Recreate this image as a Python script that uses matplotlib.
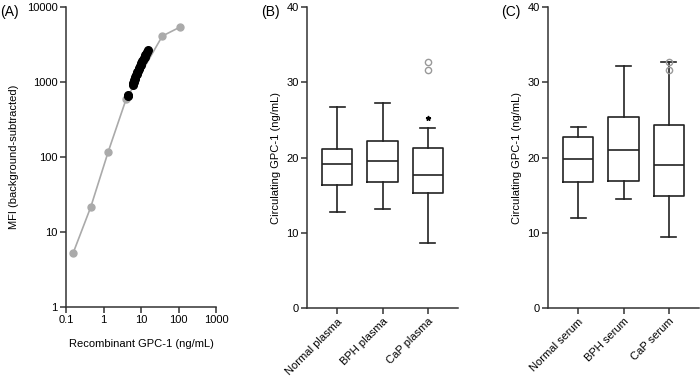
import matplotlib
matplotlib.use("Agg")
import matplotlib.pyplot as plt
from matplotlib.ticker import FixedLocator, NullLocator

plt.rcParams['font.family'] = ['Liberation Sans', 'DejaVu Sans']
plt.rcParams['font.size'] = 8

# (A) standard curve
std_conc = [0.154, 0.457, 1.34, 4.0, 37.0, 110.0]
std_mfi = [5.2, 21.5, 118, 588, 4100, 5400]
smp_conc = [4.4, 4.5, 6.0, 6.2, 6.4, 6.6, 6.9, 7.1, 7.4, 7.7, 8.0, 8.3, 8.7, 9.0,
            9.4, 9.8, 10.2, 10.7, 11.2, 11.8, 12.4, 13.1, 13.9, 14.8, 15.7]
smp_mfi = [650, 670, 910, 960, 1010, 1060, 1110, 1170, 1230, 1290, 1350, 1420, 1490, 1560,
           1630, 1710, 1790, 1880, 1970, 2060, 2160, 2270, 2390, 2530, 2680]

# (B) plasma and (C) serum: whisker low, Q1, median, Q3, whisker high
plasma_labels = ['Normal plasma', 'BPH plasma', 'CaP plasma']
plasma_low = [12.7, 13.2, 8.7]
plasma_q1 = [16.4, 16.7, 15.3]
plasma_med = [19.1, 19.6, 17.7]
plasma_q3 = [21.1, 22.2, 21.2]
plasma_high = [26.7, 27.3, 23.9]
plasma_out = [32.7, 31.6]
plasma_star = [25.3]

serum_labels = ['Normal serum', 'BPH serum', 'CaP serum']
serum_low = [11.9, 14.5, 9.4]
serum_q1 = [16.7, 16.9, 14.9]
serum_med = [19.8, 21.0, 19.0]
serum_q3 = [22.7, 25.4, 24.3]
serum_high = [24.1, 32.1, 32.7]
serum_out = [32.7, 31.6]

W, H = 700, 376
fig = plt.figure(figsize=(7, 3.76), dpi=100)


def add_ax(l, r, t, b):
    return fig.add_axes([l / W, 1 - b / H, (r - l) / W, (b - t) / H])


def style(ax):
    for s in ['top', 'right']:
        ax.spines[s].set_visible(False)
    for s in ['left', 'bottom']:
        ax.spines[s].set_linewidth(1.1)
        ax.spines[s].set_color('#333333')
    ax.tick_params(direction='out', length=4, width=1.1, color='#333333', labelsize=8, pad=2)


# panel A
axA = add_ax(66, 216, 7, 307)
axA.plot(std_conc, std_mfi, '-', color='#aaaaaa', lw=1.2, zorder=1)
axA.plot(std_conc, std_mfi, 'o', color='#aaaaaa', ms=5, mec='#aaaaaa', zorder=2)
axA.plot(smp_conc, smp_mfi, 'o', color='black', ms=5.5, zorder=3)
axA.set_xscale('log')
axA.set_yscale('log')
axA.set_xlim(0.1, 1000)
axA.set_ylim(1, 10000)
axA.xaxis.set_major_locator(FixedLocator([0.1, 1, 10, 100, 1000]))
axA.yaxis.set_major_locator(FixedLocator([1, 10, 100, 1000, 10000]))
axA.xaxis.set_minor_locator(NullLocator())
axA.yaxis.set_minor_locator(NullLocator())
axA.set_xticklabels(['0.1', '1', '10', '100', '1000'])
axA.set_yticklabels(['1', '10', '100', '1000', '10000'])
style(axA)
axA.set_xlabel('Recombinant GPC-1 (ng/mL)', fontsize=8, labelpad=10)
axA.set_ylabel('MFI (background-subtracted)', fontsize=8, labelpad=6)
fig.text(0 / W, 1 - 12 / H, '(A)', fontsize=10, va='center', ha='left')


def box_panel(ax, labels, low, q1, med, q3, high):
    stats = []
    for i in range(len(labels)):
        stats.append(dict(whislo=low[i], q1=q1[i], med=med[i], q3=q3[i],
                          whishi=high[i], fliers=[], label=labels[i]))
    lp = dict(color='#222222', linewidth=1.2)
    ax.bxp(stats, positions=range(len(labels)), widths=0.67, showfliers=False,
           boxprops=lp, whiskerprops=lp, capprops=lp,
           medianprops=dict(color='#222222', linewidth=1.2))
    ax.set_xlim(-0.67, len(labels) - 0.33)
    ax.set_ylim(0, 40)
    ax.set_yticks([0, 10, 20, 30, 40])
    ax.set_xticks(range(len(labels)))
    ax.set_xticklabels(labels, rotation=45, ha='right', rotation_mode='anchor')
    style(ax)
    ax.set_ylabel('Circulating GPC-1 (ng/mL)', fontsize=8, labelpad=4)


axB = add_ax(307, 458, 7, 308)
box_panel(axB, plasma_labels, plasma_low, plasma_q1, plasma_med, plasma_q3, plasma_high)
axB.plot([2] * len(plasma_out), plasma_out, 'o', mfc='none', mec='#999999', ms=4.5, mew=1)
axB.plot([2] * len(plasma_star), plasma_star, '*', color='black', ms=3.5)
fig.text(261 / W, 1 - 12 / H, '(B)', fontsize=10, va='center', ha='left')

axC = add_ax(548, 699, 7, 308)
box_panel(axC, serum_labels, serum_low, serum_q1, serum_med, serum_q3, serum_high)
axC.plot([2] * len(serum_out), serum_out, 'o', mfc='none', mec='#999999', ms=4.5, mew=1)
fig.text(501 / W, 1 - 12 / H, '(C)', fontsize=10, va='center', ha='left')

fig.savefig('out.png', dpi=100)
